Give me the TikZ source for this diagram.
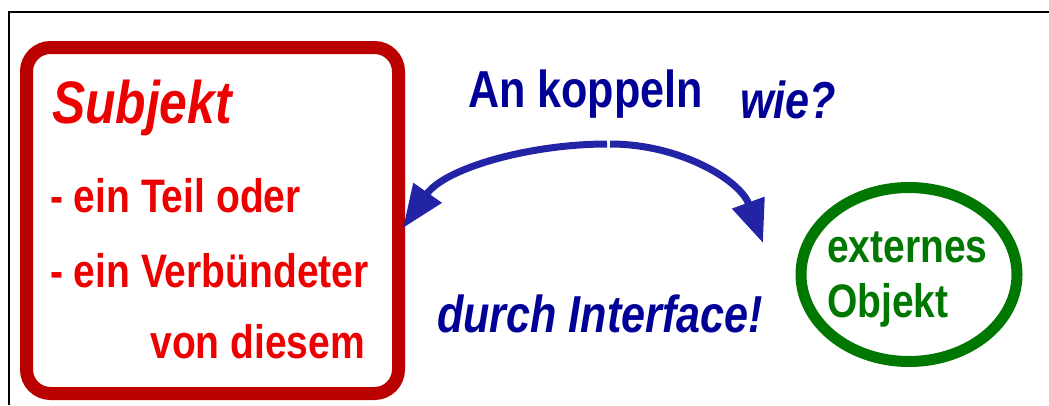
\documentclass[tikz,border=0pt]{standalone}
\usepackage{fontspec}
\setmainfont{Liberation Sans}
\newfontfamily\af[FakeStretch=0.83]{Liberation Sans}
\usetikzlibrary{arrows.meta,shapes.geometric}
\definecolor{boxred}{RGB}{187,0,0}
\definecolor{txtred}{RGB}{236,0,0}
\definecolor{txtblue}{RGB}{0,0,150}
\definecolor{arrblue}{RGB}{35,35,165}
\definecolor{objgreen}{RGB}{0,119,0}
\tikzset{
  lbl/.style={inner sep=0pt, outer sep=0pt, anchor=base west, font=\af\bfseries\fontsize{47}{56}\selectfont},
  redtxt/.style={lbl, text=txtred},
  bluetxt/.style={lbl, text=txtblue, font=\af\bfseries\fontsize{52}{60}\selectfont},
  greentxt/.style={lbl, text=objgreen, font=\af\bfseries\fontsize{47}{56}\selectfont},
  arr/.style={draw=arrblue, line width=7pt, -{Triangle[length=43pt,width=33pt]}},
  frame/.style={draw=black, line width=2pt}
}
\begin{document}
\begin{tikzpicture}[x=1pt,y=-1pt]
\useasboundingbox (0,0) rectangle (1049,405);
\draw[frame] (1049,12) -- (9,12) -- (9,405);
% subject box
\node[draw=boxred, line width=13pt, rounded corners=24pt, minimum width=372pt, minimum height=346pt, inner sep=0pt] (box) at (212.5,220.5) {};
\node[redtxt, font=\af\bfseries\itshape\fontsize{60}{70}\selectfont] (subj) at (52,123) {Subjekt};
\node[redtxt] (l1) at (50,212) {- ein Teil oder};
\node[redtxt] (l2) at (50,287) {- ein Verbündeter};
\node[redtxt, anchor=base east] (l3) at (365,358) {von diesem};
% object ellipse
\node[draw=objgreen, line width=11pt, ellipse, minimum width=216pt, minimum height=174pt, inner sep=0pt] (obj) at (909,274.5) {};
\node[greentxt] (o1) at (827,262) {externes};
\node[greentxt] (o2) at (827,317) {Objekt};
% blue labels
\node[bluetxt] (an) at (468,107) {An koppeln};
\node[bluetxt, font=\af\bfseries\itshape\fontsize{52}{60}\selectfont] (wie) at (740,118) {wie?};
\node[bluetxt, font=\af\bfseries\itshape\fontsize{52}{60}\selectfont] (durch) at (437,332) {durch Interface!};
% arrows
\coordinate (ls) at (607,144);
\coordinate (rs) at (610,144);
\coordinate (rt) at (763,243);
\draw[arr] (ls) .. controls (530,144) and (445,168) .. ([xshift=-2pt,yshift=-7.5pt]box.east);
\draw[arr] (rs) .. controls (680,144) and (740,180) .. (rt);
\end{tikzpicture}
\end{document}
